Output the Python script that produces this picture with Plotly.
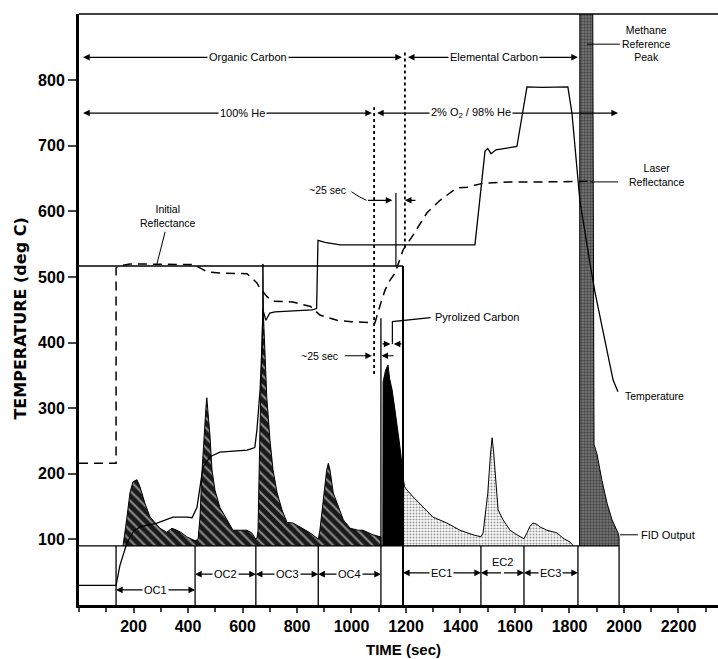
import plotly.graph_objects as go

# ---------------- data ----------------
# Temperature trace (sec, deg C)
temp_time = [0, 136, 150, 176, 200, 224, 286, 345, 396, 415, 433, 455, 481, 517, 617, 645, 653,
             665, 672, 675, 686, 700, 719, 855, 872, 877, 903, 958, 1453, 1490, 1500, 1512, 1530,
             1607, 1644, 1700, 1794, 1809, 1831, 1838, 1875, 1894, 1960, 1978]
temp_val = [30, 30, 60, 95, 112, 119, 125, 134, 134, 133, 149, 210, 226, 233, 236, 240, 267,
            330, 400, 450, 434, 445, 447, 450, 452, 556, 553, 549, 549, 692, 696, 688, 694,
            699, 790, 789, 790, 750, 649, 617, 521, 476, 343, 325]

# Laser reflectance trace (plotted on same scale)
refl_time = [0, 136, 136, 150, 187, 300, 420, 444, 470, 517, 617, 653, 664, 690, 712, 785, 850,
             884, 947, 1000, 1050, 1086, 1105, 1123, 1141, 1160, 1189, 1226, 1277, 1325, 1387,
             1424, 1483, 1582, 1700, 1827, 1875]
refl_val = [216, 216, 514, 517, 520, 520, 519, 514, 508, 506, 505, 491, 483, 470, 463, 462, 455,
            442, 434, 432, 431, 430, 457, 480, 495, 506, 541, 564, 598, 617, 636,
            637, 643, 645, 645, 645, 646]

# FID output, by carbon fraction
oc_time = [162, 176, 187, 198, 213, 224, 242, 261, 279, 297, 322, 341, 359, 377, 395, 420, 426,
           437, 444, 451, 459, 466, 469, 474, 481, 488, 499, 517, 543, 565, 616, 634, 646, 649,
           653, 657, 664, 672, 674, 675, 677, 683, 689, 701, 712, 727, 745, 763, 785, 811, 848,
           873, 878, 884, 897, 909, 915, 921, 933, 952, 970, 995, 1025, 1042, 1079, 1105, 1108]
oc_fid = [91, 134, 171, 188, 191, 180, 155, 134, 125, 117, 111, 117, 114, 110, 104, 99, 98,
          100, 134, 201, 267, 302, 316, 292, 256, 206, 175, 149, 130, 114, 114, 110, 102, 101,
          102, 114, 267, 400, 440, 520, 440, 380, 317, 251, 206, 171, 145, 126, 125, 119, 110,
          102, 100, 114, 165, 206, 216, 206, 171, 149, 130, 117, 114, 114, 107, 104, 104]
pc_time = [1108, 1115, 1116, 1125, 1134, 1140, 1149, 1160, 1167, 1175, 1182, 1189]
pc_fid = [91, 91, 340, 358, 366, 345, 328, 296, 277, 250, 226, 195]
ec_time = [1189, 1195, 1204, 1226, 1262, 1299, 1350, 1398, 1446, 1475, 1483, 1500, 1510, 1516,
           1521, 1527, 1538, 1556, 1582, 1607, 1629, 1633, 1644, 1655, 1666, 1680, 1692, 1717,
           1754, 1776, 1802, 1810]
ec_fid = [195, 180, 175, 165, 149, 134, 125, 114, 107, 104, 110, 170, 230, 255,
          236, 201, 145, 130, 114, 107, 102, 101, 110, 120, 125, 123, 119, 114,
          110, 102, 96, 92]
ch4_time = [1837, 1838, 1885, 1890, 1901, 1919, 1938, 1956, 1978, 1982]
ch4_fid = [91, 960, 960, 245, 230, 190, 155, 130, 110, 104]

fid_baseline = 90
initial_reflectance = 517
segment_bounds = [136, 426, 649, 878, 1108, 1189, 1475, 1633, 1831, 1982]
pyro_line_top = 437
split_time = 1196
pyro_time = 1083
laser_mark_time = 1163

x_ticks = list(range(200, 2201, 200))
y_ticks = list(range(100, 801, 100))

FONT = "Liberation Sans, Arial, sans-serif"

fig = go.Figure()

def poly(t, v, base):
    return [t[0]] + list(t) + [t[-1]], [base] + list(v) + [base]

# FID filled areas
xs, ys = poly(oc_time, oc_fid, fid_baseline)
fig.add_trace(go.Scatter(x=xs, y=ys, mode="lines", fill="toself", line=dict(color="black", width=1),
                         fillcolor="#1e1e1e",
                         fillpattern=dict(shape="\\", fgcolor="white", bgcolor="#1a1a1a", size=7, solidity=0.28)))
xs, ys = poly(pc_time, pc_fid, fid_baseline)
fig.add_trace(go.Scatter(x=xs, y=ys, mode="lines", fill="toself", line=dict(color="black", width=1),
                         fillcolor="black"))
xs, ys = poly(ec_time, ec_fid, fid_baseline)
fig.add_trace(go.Scatter(x=xs, y=ys, mode="lines", fill="toself", line=dict(color="black", width=1),
                         fillpattern=dict(shape=".", fgcolor="#333", bgcolor="white", size=3, solidity=0.4)))
xs, ys = poly(ch4_time, ch4_fid, fid_baseline)
fig.add_trace(go.Scatter(x=xs, y=ys, mode="lines", fill="toself", line=dict(color="black", width=1),
                         fillpattern=dict(shape=".", fgcolor="#111", bgcolor="#7a7a7a", size=3, solidity=0.5)))

# Structural lines (segment box, initial reflectance box)
def seg(x0, y0, x1, y1, width=1.3, dash="solid", color="black"):
    fig.add_trace(go.Scatter(x=[x0, x1], y=[y0, y1], mode="lines",
                             line=dict(color=color, width=width, dash=dash)))

seg(0, fid_baseline, segment_bounds[-1], fid_baseline, 1.3)
for b in segment_bounds:
    if b == 1108:
        seg(b, 0, b, pyro_line_top, 1.3)
    elif b == 1189:
        seg(b, 0, b, initial_reflectance, 2)
    else:
        seg(b, 0, b, fid_baseline, 1.3)
seg(0, initial_reflectance, 1189, initial_reflectance, 1.5)
seg(laser_mark_time, initial_reflectance, laser_mark_time, 628, 1.2)
seg(pyro_time, 352, pyro_time, 759, 1.8, "dot")
seg(split_time, 545, split_time, 846, 1.8, "dot")

# Temperature
fig.add_trace(go.Scatter(x=temp_time, y=temp_val, mode="lines", line=dict(color="black", width=1.3)))
# Laser reflectance
fig.add_trace(go.Scatter(x=refl_time, y=refl_val, mode="lines",
                         line=dict(color="black", width=1.5, dash="9px,6px")))

# leader lines
seg(316, 569, 286, 520, 1)             # initial reflectance
seg(1864, 855, 1985, 855, 1)           # methane
seg(1875, 645, 1978, 645, 1)           # laser
seg(1985, 107, 2051, 107, 1)           # FID output
fig.add_trace(go.Scatter(x=[1150, 1150, 1290], y=[398, 432, 438], mode="lines",
                         line=dict(color="black", width=1.2)))  # pyrolized carbon
fig.add_trace(go.Scatter(x=[1000, 1030, 1055], y=[630, 622, 617], mode="lines",
                         line=dict(color="black", width=1)))  # ~25 sec (top)

ann = []

def arrow(tip, tail, y, w=1.2):
    ann.append(dict(x=tip, y=y, ax=tail, ay=y, xref="x", yref="y", axref="x", ayref="y",
                    text="", showarrow=True, arrowhead=2, arrowsize=1.1, arrowwidth=w,
                    arrowcolor="black"))

def label(x, y, text, size=11, bg=None, align="center", xanchor="center"):
    d = dict(x=x, y=y, xref="x", yref="y", text=text, showarrow=False, align=align,
             xanchor=xanchor, yanchor="middle", font=dict(family=FONT, size=size, color="black"))
    if bg:
        d.update(bgcolor=bg, borderpad=1)
    ann.append(d)

def span(x0, x1, y, text, xc=None, size=11):
    xc = (x0 + x1) / 2 if xc is None else xc
    arrow(x0, xc, y)
    arrow(x1, xc, y)
    label(xc, y, text, size, bg="white")

span(15, 1185, 835, "Organic Carbon", xc=620)
span(1207, 1831, 835, "Elemental Carbon", xc=1523)
span(15, 1075, 750, "100% He", xc=600)
span(1094, 1978, 750, "2% O<sub>2</sub> / 98% He", xc=1440)

# ~25 sec top
label(911, 633, "~25 sec", 10.5)
arrow(1150, 1055, 617)
arrow(1196, 1240, 617)
# ~25 sec bottom
label(881, 380, "~25 sec", 10.5)
arrow(1075, 970, 380)
arrow(1110, 1160, 380)
# pyrolized carbon arrows
arrow(1143, 1108, 398)
arrow(1155, 1189, 398)
label(1299, 439, "Pyrolized Carbon", 11, xanchor="left")

label(327, 593, "Initial<br>Reflectance", 10.5)
label(2084, 856, "Methane<br>Reference<br>Peak", 10.5)
label(2121, 655, "Laser<br>Reflectance", 10.5)
label(1996, 319, "Temperature", 10.5, xanchor="left")
label(2055, 107, "FID Output", 11, xanchor="left")

# fraction labels in bottom box
b = segment_bounds
span(b[0], b[1], 23, "OC1")
span(b[1], b[2], 47, "OC2")
span(b[2], b[3], 47, "OC3")
span(b[3], b[4], 47, "OC4")
span(b[5], b[6], 49, "EC1")
arrow(b[6], (b[6] + b[7]) / 2, 49)
arrow(b[7], (b[6] + b[7]) / 2, 49)
label((b[6] + b[7]) / 2, 66, "EC2", 11)
span(b[7], b[8], 49, "EC3")

# axis titles
ann.append(dict(x=-0.092, y=0.485, xref="paper", yref="paper", text="TEMPERATURE (deg C)",
                textangle=-90, showarrow=False, xanchor="center", yanchor="middle",
                font=dict(family="DejaVu Sans, sans-serif", size=16, color="black", weight="bold")))
ann.append(dict(x=0.508, y=-0.076, xref="paper", yref="paper", text="TIME (sec)",
                showarrow=False, xanchor="center", yanchor="middle",
                font=dict(family=FONT, size=15, color="black", weight="bold")))

fig.update_layout(
    width=718, height=659,
    margin=dict(l=79, r=0, t=14, b=54),
    paper_bgcolor="white", plot_bgcolor="white",
    showlegend=False,
    annotations=ann,
    shapes=[dict(type="line", xref="paper", yref="paper", x0=0, x1=1, y0=1, y1=1,
                 line=dict(color="black", width=1.5))],
    xaxis=dict(range=[0, 2345], tickvals=x_ticks, ticks="outside", ticklen=5, tickwidth=1.5,
               showline=True, linewidth=3, linecolor="black", showgrid=False, zeroline=False,
               tickfont=dict(family=FONT, size=16, color="black", weight="bold"),
               minor=dict(dtick=100, tick0=0, ticks="outside", ticklen=4, tickwidth=1.5)),
    yaxis=dict(range=[0, 901], tickvals=y_ticks, ticks="outside", ticklen=8, tickwidth=2,
               showline=True, linewidth=3, linecolor="black", showgrid=False, zeroline=False,
               tickfont=dict(family=FONT, size=16, color="black", weight="bold")),
)

fig.write_html("out.html")
